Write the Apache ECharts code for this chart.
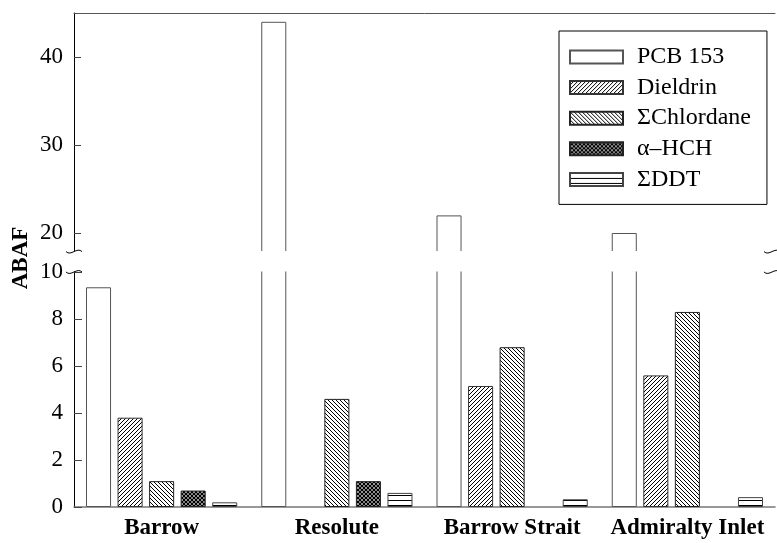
<!DOCTYPE html>
<html><head><meta charset="utf-8">
<script src="https://cdn.jsdelivr.net/npm/echarts@6/dist/echarts.min.js"></script>
<style>html,body{margin:0;padding:0;background:#fff}#c{width:777px;height:543px}</style>
</head><body><div id="c"></div>
<script>
const categories = ['Barrow', 'Resolute', 'Barrow Strait', 'Admiralty Inlet'];
const seriesNames = ['PCB 153', 'Dieldrin', 'ΣChlordane', 'α\u2013HCH', 'ΣDDT'];
const pcb153 = [9.35, 44.0, 22.0, 20.0];
const dieldrin = [3.8, null, 5.15, 5.6];
const chlordane = [1.1, 4.6, 6.8, 8.3];
const hch = [0.7, 1.1, null, null];
const ddt = [0.2, 0.6, 0.33, 0.42];
const upperTicks = [20, 30, 40];
const lowerTicks = [0, 2, 4, 6, 8, 10];
const seriesValues = [pcb153, dieldrin, chlordane, hch, ddt];

const FONT = 'Liberation Serif';

function pattern(kind) {
  const s = kind === 'h' ? 5 : 4;
  const c = document.createElement('canvas');
  c.width = s; c.height = s;
  const g = c.getContext('2d');
  g.fillStyle = '#fff'; g.fillRect(0, 0, s, s);
  g.strokeStyle = '#000'; g.lineWidth = 1;
  const line = (x1, y1, x2, y2) => { g.beginPath(); g.moveTo(x1, y1); g.lineTo(x2, y2); g.stroke(); };
  if (kind === 'f') {
    line(-1, s + 1, s + 1, -1); line(-1, 1, 1, -1); line(s - 1, s + 1, s + 1, s - 1);
  } else if (kind === 'b') {
    line(-1, -1, s + 1, s + 1); line(s - 1, -1, s + 1, 1); line(-1, s - 1, 1, s + 1);
  } else if (kind === 'x') {
    g.lineWidth = 1.3;
    line(-1, s + 1, s + 1, -1); line(-1, 1, 1, -1); line(s - 1, s + 1, s + 1, s - 1);
    line(-1, -1, s + 1, s + 1); line(s - 1, -1, s + 1, 1); line(-1, s - 1, 1, s + 1);
  } else if (kind === 'h') {
    g.fillStyle = '#000'; g.fillRect(0, 0, s, 1);
  }
  return { image: c, repeat: 'repeat' };
}
const fills = ['#fff', pattern('f'), pattern('b'), pattern('x'), pattern('h')];
const borders = ['#555', '#333', '#222', '#222', '#444'];

const chart = echarts.init(document.getElementById('c'), null, { renderer: 'canvas' });

// upper: 45 at y=13, 8.8 px/unit ; lower: 0 at y=507, 23.5 px/unit
const UP_MIN = 16.5, UP_MAX = 45, LOW_MAX = 10.5;
const grids = [
  { left: 74, right: 2, top: 13, height: (UP_MAX - UP_MIN) * 8.8 },
  { left: 74, right: 2, top: 507 - LOW_MAX * 23.5, height: LOW_MAX * 23.5 }
];

const series = [];
for (let gi = 0; gi < 2; gi++) {
  seriesValues.forEach((vals, i) => {
    const data = vals.map(v => {
      if (v === null) return '-';
      if (gi === 0) return v > 10 ? v : '-';
      return v;
    });
    series.push({
      name: seriesNames[i], type: 'bar', xAxisIndex: gi, yAxisIndex: gi,
      data: data, barGap: '26%', barCategoryGap: '13.7%', clip: true,
      itemStyle: { color: fills[i], borderColor: borders[i], borderWidth: 1 },
      emphasis: { disabled: true }, silent: true
    });
  });
}

const option = {
  animation: false,
  backgroundColor: '#fff',
  textStyle: { fontFamily: FONT },
  grid: grids,
  legend: {
    data: seriesNames, left: 559, top: 31, orient: 'vertical', selectedMode: false,
    itemWidth: 53, itemHeight: 13, itemGap: 6.6, icon: 'rect',
    borderColor: '#000', borderWidth: 1, padding: [14, 16, 13, 10],
    textStyle: { fontFamily: FONT, fontSize: 24, color: '#000', lineHeight: 22, padding: [0, 0, 0, 9] }
  },
  xAxis: [
    { gridIndex: 0, type: 'category', data: categories, position: 'top',
      axisLine: { show: true, lineStyle: { color: '#555', width: 1 } },
      axisTick: { show: false }, axisLabel: { show: false } },
    { gridIndex: 1, type: 'category', data: categories, position: 'bottom',
      axisLine: { show: true, lineStyle: { color: '#777', width: 1.5 } },
      axisTick: { show: false },
      axisLabel: { interval: 0, hideOverlap: false, fontFamily: FONT, fontSize: 23, fontWeight: 'bold', color: '#000', margin: 10 } }
  ],
  yAxis: [
    { gridIndex: 0, type: 'value', min: UP_MIN, max: UP_MAX,
      splitLine: { show: false },
      axisLine: { show: true, lineStyle: { color: '#000', width: 1 } },
      axisTick: { show: true, inside: true, length: 7, customValues: upperTicks, lineStyle: { color: '#444' } },
      axisLabel: { customValues: upperTicks, fontFamily: FONT, fontSize: 23, color: '#000', margin: 11 } },
    { gridIndex: 1, type: 'value', min: 0, max: LOW_MAX,
      splitLine: { show: false },
      axisLine: { show: true, lineStyle: { color: '#000', width: 1 } },
      axisTick: { show: true, inside: true, length: 8, customValues: lowerTicks, lineStyle: { color: '#444' } },
      axisLabel: { customValues: lowerTicks, fontFamily: FONT, fontSize: 23, color: '#000', margin: 11 } }
  ],
  series: series
};
chart.setOption(option);

const yUp = chart.convertToPixel({ yAxisIndex: 0 }, 18);
const yLow = chart.convertToPixel({ yAxisIndex: 1 }, 10);
const xL = 74;
const xR = 772;
function brk(x, y) {
  return {
    type: 'bezierCurve', silent: true, z: 200,
    shape: { x1: x - 8, y1: y, cpx1: x - 3, cpy1: y + 5, cpx2: x + 3, cpy2: y - 5, x2: x + 8, y2: y },
    style: { fill: null, stroke: '#000', lineWidth: 1 }
  };
}
chart.setOption({
  graphic: [
    { type: 'rect', silent: true, z: 150,
      shape: { x: 70, y: yUp + 0.5, width: 707, height: yLow - yUp - 1 },
      style: { fill: '#fff', stroke: null } },
    brk(xL, yUp + 1), brk(xL, yLow),
    brk(xR, yUp + 1), brk(xR, yLow),
    { type: 'text', x: 21, y: 258, rotation: Math.PI / 2, silent: true, z: 200,
      style: { text: 'ABAF', fontFamily: FONT, fontSize: 23, fontWeight: 'bold', fill: '#000', align: 'center', verticalAlign: 'middle' } }
  ]
});
</script></body></html>
